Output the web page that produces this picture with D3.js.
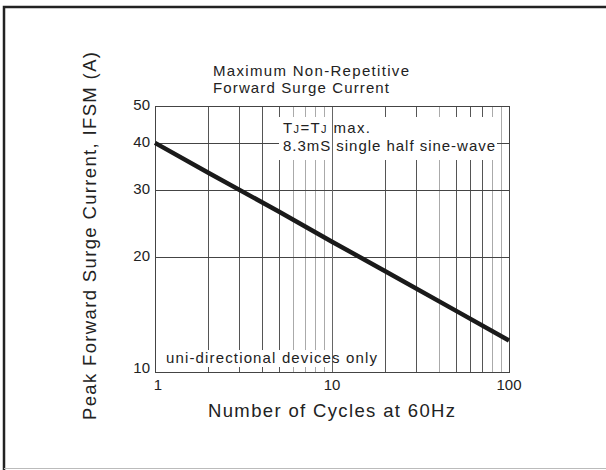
<!DOCTYPE html>
<html>
<head>
<meta charset="utf-8">
<script src="https://cdn.jsdelivr.net/npm/d3@7"></script>
<style>
  body { margin: 0; background: #fff; }
  text { font-family: "Liberation Sans", Arial, sans-serif; fill: #222; }
</style>
</head>
<body>
<div id="chart"></div>
<script>
// readings (cycles vs peak surge current)
var cycles = [1, 2, 5, 10, 20, 50, 100];
var current = [40, 33.4, 26.4, 22, 18.4, 14.5, 12.1];

var yTicks = [10, 20, 30, 40, 50];
var xTicks = [1, 10, 100];
var xGridDark = [2, 3, 4, 5, 20, 30, 50, 60, 70];
var xGridLight = [6, 7, 8, 9, 40, 80, 90];

var W = 606, H = 470;
var plot = {left: 155, right: 509, top: 106, bottom: 372};

var svg = d3.select('#chart').append('svg')
    .attr('width', W)
    .attr('height', H);

// outer frame
svg.append('path')
    .attr('d', 'M4,470 V7 H606')
    .attr('fill', 'none')
    .attr('stroke', '#222')
    .attr('stroke-width', 2.5);
svg.append('line')
    .attr('x1', 4).attr('x2', 606)
    .attr('y1', 468.5).attr('y2', 468.5)
    .attr('stroke', '#bbb');

var x = d3.scaleLog().domain([1, 100]).range([plot.left, plot.right]);
var y = d3.scaleLog().domain([10, 50]).range([plot.bottom, plot.top]);

var g = svg.append('g');

// vertical grid
g.selectAll('line.vl')
    .data(xGridLight)
    .enter().append('line')
    .attr('class', 'vl')
    .attr('x1', function(d){ return Math.round(x(d)) + 0.5; })
    .attr('x2', function(d){ return Math.round(x(d)) + 0.5; })
    .attr('y1', plot.top).attr('y2', plot.bottom)
    .attr('stroke', '#aaa');
g.selectAll('line.vd')
    .data(xGridDark)
    .enter().append('line')
    .attr('class', 'vd')
    .attr('x1', function(d){ return Math.round(x(d)) + 0.5; })
    .attr('x2', function(d){ return Math.round(x(d)) + 0.5; })
    .attr('y1', plot.top).attr('y2', plot.bottom)
    .attr('stroke', '#555');

// horizontal grid
g.selectAll('line.h')
    .data([20, 30, 40])
    .enter().append('line')
    .attr('class', 'h')
    .attr('x1', plot.left).attr('x2', plot.right)
    .attr('y1', function(d){ return Math.round(y(d)) + 0.5; })
    .attr('y2', function(d){ return Math.round(y(d)) + 0.5; })
    .attr('stroke', '#444');

// white boxes behind the notes
g.append('rect').attr('x', 279).attr('y', 117).attr('width', 218).attr('height', 43).attr('fill', '#fff');
g.append('rect').attr('x', 162).attr('y', 350).attr('width', 216).attr('height', 17).attr('fill', '#fff');

// 10 gridline stays on top
g.append('line')
    .attr('x1', Math.round(x(10)) + 0.5).attr('x2', Math.round(x(10)) + 0.5)
    .attr('y1', plot.top).attr('y2', plot.bottom)
    .attr('stroke', '#666');

// plot border
g.append('rect')
    .attr('x', plot.left + 0.5).attr('y', plot.top + 0.5)
    .attr('width', plot.right - plot.left).attr('height', plot.bottom - plot.top)
    .attr('fill', 'none')
    .attr('stroke', '#444');

// the curve
var line = d3.line()
    .x(function(d, i){ return x(cycles[i]); })
    .y(function(d){ return y(d); });
g.append('path')
    .datum(current)
    .attr('d', line)
    .attr('fill', 'none')
    .attr('stroke', '#1a1a1a')
    .attr('stroke-width', 4.5);

// tick labels
g.selectAll('text.yt')
    .data(yTicks)
    .enter().append('text')
    .attr('class', 'yt')
    .attr('x', 150)
    .attr('y', function(d){ return y(d) + (d === 10 ? 1 : 4); })
    .attr('text-anchor', 'end')
    .attr('font-size', 15)
    .text(function(d){ return d; });

g.selectAll('text.xt')
    .data(xTicks)
    .enter().append('text')
    .attr('class', 'xt')
    .attr('x', function(d){ return x(d) + (d === 1 ? 3 : 0); })
    .attr('y', 390)
    .attr('text-anchor', 'middle')
    .attr('font-size', 15)
    .text(function(d){ return d; });

// titles and notes
svg.append('text').attr('x', 213).attr('y', 76).attr('font-size', 15)
    .attr('textLength', 196).text('Maximum Non-Repetitive');
svg.append('text').attr('x', 213).attr('y', 93).attr('font-size', 15)
    .attr('textLength', 176).text('Forward Surge Current');

var t1 = svg.append('text').attr('x', 283).attr('y', 133).attr('font-size', 15)
    .attr('textLength', 87);
t1.append('tspan').text('T');
t1.append('tspan').attr('font-size', 11).text('J');
t1.append('tspan').text('=T');
t1.append('tspan').attr('font-size', 11).text('J');
t1.append('tspan').text(' max.');

svg.append('text').attr('x', 283).attr('y', 151).attr('font-size', 15)
    .attr('textLength', 212).text('8.3mS single half sine-wave');
svg.append('text').attr('x', 166).attr('y', 363).attr('font-size', 15)
    .attr('textLength', 211).text('uni-directional devices only');

svg.append('text').attr('x', 208).attr('y', 417).attr('font-size', 18.5)
    .attr('textLength', 247).text('Number of Cycles at 60Hz');

svg.append('text')
    .attr('transform', 'translate(96,420) rotate(-90)')
    .attr('font-size', 18.5)
    .attr('textLength', 368)
    .text('Peak Forward Surge Current, IFSM (A)');
</script>
</body>
</html>
